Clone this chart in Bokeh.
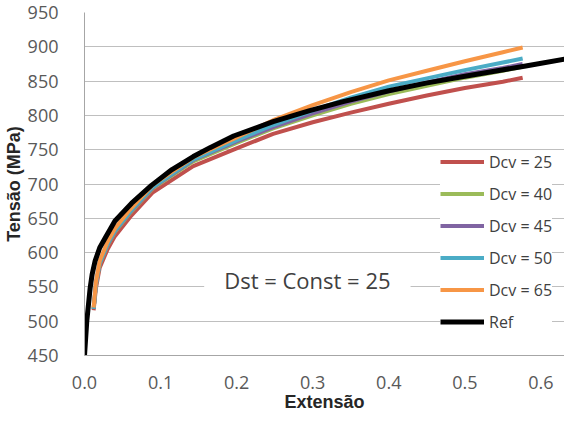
from bokeh.plotting import figure
from bokeh.models import Range1d, FixedTicker, Label, Legend
from bokeh.embed import file_html
from bokeh.resources import INLINE

# ---- data ----
x_dcv = [0.012, 0.015, 0.02, 0.03, 0.04, 0.06, 0.09, 0.143, 0.2, 0.248, 0.3, 0.35, 0.4, 0.45, 0.5, 0.55, 0.576]
dcv25 = [516, 548, 578, 604, 624, 652, 688, 726, 752, 773, 790, 804, 817, 829, 840, 849, 855]
dcv40 = [518, 553, 583, 610, 630, 658, 694, 733, 760, 781, 800, 817, 831, 843, 855, 865, 871]
dcv45 = [518, 554, 584, 611, 631, 659, 695, 735, 762, 783, 803, 820, 835, 848, 860, 869, 875]
dcv50 = [518, 555, 585, 612, 632, 660, 696, 736, 764, 786, 807, 826, 842, 854, 866, 877, 883]
dcv65 = [520, 557, 588, 615, 635, 663, 699, 739, 768, 793, 815, 834, 851, 865, 879, 892, 899]

x_ref = [0.0, 0.003, 0.0075, 0.01, 0.014, 0.02, 0.027, 0.04, 0.062, 0.088, 0.115, 0.143, 0.165,
         0.196, 0.248, 0.296, 0.34, 0.4, 0.449, 0.5, 0.537, 0.58, 0.642, 0.66]
ref = [450, 500, 549, 568, 588, 607, 621, 646, 672, 698, 721, 740, 753,
       770, 791, 807, 820, 836, 847, 857, 864, 872, 884, 887]

series_names = ["Dcv = 25", "Dcv = 40", "Dcv = 45", "Dcv = 50", "Dcv = 65"]
series_vals = [dcv25, dcv40, dcv45, dcv50, dcv65]
series_colors = ["#C0504D", "#9BBB59", "#8064A2", "#4BACC6", "#F79646"]

y_ticks = [450, 500, 550, 600, 650, 700, 750, 800, 850, 900, 950]
x_ticks = [0.0, 0.1, 0.2, 0.3, 0.4, 0.5, 0.6]
x_labels = {0.0: "0.0", 0.1: "0.1", 0.2: "0.2", 0.3: "0.3", 0.4: "0.4", 0.5: "0.5", 0.6: "0.6"}

p = figure(width=564, height=414, output_backend="svg", toolbar_location=None,
           x_range=Range1d(0, 0.631), y_range=Range1d(450, 950),
           min_border_left=83, min_border_right=0, min_border_top=12, min_border_bottom=57)
p.outline_line_color = None
p.background_fill_color = "white"
p.border_fill_color = "white"

renderers = []
for name, vals, col in zip(series_names, series_vals, series_colors):
    r = p.line(x_dcv, vals, line_color=col, line_width=4, line_join="round")
    renderers.append((name, [r]))
r_ref = p.line(x_ref, ref, line_color="black", line_width=5, line_join="round")
renderers.append(("Ref", [r_ref]))

tick_font = "Open Sans"
grey = "#595959"

p.xaxis.ticker = FixedTicker(ticks=x_ticks)
p.xaxis.major_label_overrides = x_labels
p.yaxis.ticker = FixedTicker(ticks=y_ticks)
p.xgrid.grid_line_color = None
p.ygrid.ticker = FixedTicker(ticks=y_ticks)
p.ygrid.grid_line_color = "#BFBFBF"
p.ygrid.grid_line_width = 1

for ax in (p.xaxis, p.yaxis):
    ax.axis_line_color = "#A6A6A6"
    ax.axis_line_width = 1
    ax.major_tick_line_color = None
    ax.minor_tick_line_color = None
    ax.major_label_text_font = tick_font
    ax.major_label_text_font_size = "18px"
    ax.major_label_text_color = grey
    ax.axis_label_text_font = "Liberation Sans"
    ax.axis_label_text_font_style = "bold"
    ax.axis_label_text_font_size = "18px"
    ax.axis_label_text_color = "#262626"

p.yaxis.major_label_standoff = 20
p.xaxis.major_label_standoff = 14
p.yaxis.axis_label = "Tensão (MPa)"
p.xaxis.axis_label = "Extensão"
p.yaxis.axis_label_standoff = 1
p.xaxis.axis_label_standoff = 0

lbl = Label(x=0.293, y=560, text="Dst = Const = 25", text_align="center",
            text_baseline="middle", text_font="Open Sans", text_font_size="22px",
            text_color="#404040", background_fill_color="white",
            padding=(20, 4), border_line_color=None)
p.add_layout(lbl)

legend = Legend(items=renderers, location=(356, 22), background_fill_color="white",
                background_fill_alpha=1.0, border_line_color=None,
                label_text_font="Open Sans", label_text_font_size="16px",
                label_text_color="#404040", glyph_width=44, glyph_height=23,
                label_height=23, spacing=9, padding=5, label_standoff=5, margin=0)
p.add_layout(legend)

open("out.html", "w").write(file_html(p, INLINE))
